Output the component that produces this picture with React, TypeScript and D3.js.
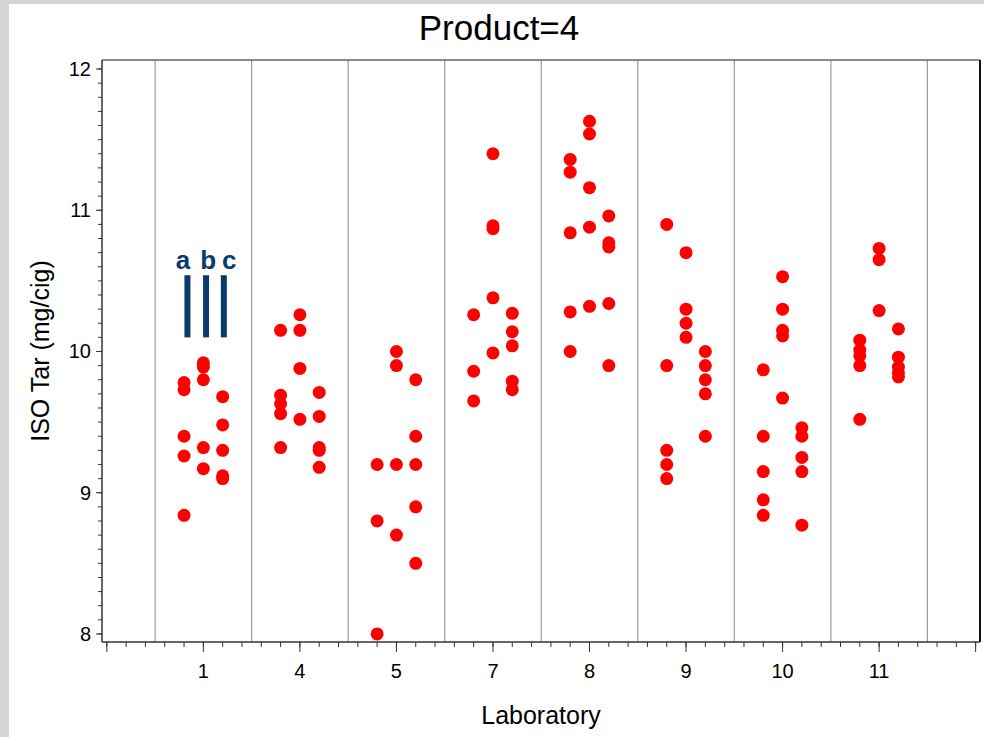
import React, { useEffect, useRef } from "react";
import * as d3 from "d3";

// laboratories along the x axis, three groups (a, b, c) per lab
const labs = ["1", "4", "5", "7", "8", "9", "10", "11"];
const groups = ["a", "b", "c"];

// ISO tar (mg/cig) per lab, one list per group
const tarA = [
  [9.78, 9.73, 9.4, 9.26, 8.84],
  [10.15, 9.69, 9.63, 9.56, 9.32],
  [9.2, 8.8, 8.0],
  [10.26, 9.86, 9.65],
  [11.36, 11.27, 10.84, 10.28, 10.0],
  [10.9, 9.9, 9.3, 9.2, 9.1],
  [9.87, 9.4, 9.15, 8.95, 8.84],
  [10.08, 10.01, 9.97, 9.9, 9.52],
];
const tarB = [
  [9.92, 9.89, 9.8, 9.32, 9.17],
  [10.26, 10.15, 9.88, 9.52],
  [10.0, 9.9, 9.2, 8.7],
  [11.4, 10.89, 10.87, 10.38, 9.99],
  [11.63, 11.54, 11.16, 10.88, 10.32],
  [10.7, 10.3, 10.2, 10.1],
  [10.53, 10.3, 10.15, 10.11, 9.67],
  [10.73, 10.65, 10.29],
];
const tarC = [
  [9.68, 9.48, 9.3, 9.12, 9.1],
  [9.71, 9.54, 9.32, 9.3, 9.18],
  [9.8, 9.4, 9.2, 8.9, 8.5],
  [10.27, 10.14, 10.04, 9.79, 9.73],
  [10.96, 10.77, 10.74, 10.34, 9.9],
  [10.0, 9.9, 9.8, 9.7, 9.4],
  [9.46, 9.4, 9.25, 9.15, 8.77],
  [10.16, 9.96, 9.89, 9.85, 9.82],
];

const yTicks = [8, 9, 10, 11, 12];

// the "a b c" key drawn over lab 1 (x in lab index units, y in mg/cig)
const keyLetterX = [0.79, 1.05, 1.267];
const keyBarX = [0.835, 1.028, 1.212];
const keyBarRange = [10.1, 10.54];
const keyLetterY = 10.585;

const App = () => {
  const ref = useRef<SVGSVGElement>(null);

  useEffect(() => {
    const width = 984;
    const height = 737;
    const margin = { top: 60, right: 4, bottom: 95, left: 102 };
    const innerW = width - margin.left - margin.right;
    const innerH = height - margin.top - margin.bottom;
    const font = "'Liberation Sans', Arial, sans-serif";

    const svg = d3.select(ref.current);
    svg.selectAll("*").remove();
    svg.attr("width", width).attr("height", height);

    // grey page frame
    svg.append("rect").attr("width", width).attr("height", height).attr("fill", "#d5d5d5");
    svg.append("rect").attr("x", 9).attr("y", 4).attr("width", width - 9).attr("height", height - 4).attr("fill", "#fff");

    svg
      .append("text")
      .attr("x", 499)
      .attr("y", 40)
      .attr("text-anchor", "middle")
      .attr("font-family", font)
      .attr("font-size", 35)
      .text("Product=4");

    const g = svg.append("g").attr("transform", `translate(${margin.left},${margin.top})`);

    const x = d3.scaleLinear().domain([-0.05, 9.045]).range([0, innerW]);
    const y = d3.scaleLinear().domain([7.943, 12.064]).range([innerH, 0]);
    const offset = d3.scalePoint().domain(groups).range([-0.2, 0.2]);

    // lab separators
    g.selectAll(".sep")
      .data(d3.range(0.5, labs.length + 1, 1))
      .enter()
      .append("line")
      .attr("x1", (d) => x(d))
      .attr("x2", (d) => x(d))
      .attr("y1", 0)
      .attr("y2", innerH)
      .attr("stroke", "#9a9a9a")
      .attr("stroke-width", 1.2);

    // frame
    g.append("line").attr("x1", 0).attr("x2", innerW).attr("y1", 0).attr("y2", 0).attr("stroke", "#666").attr("stroke-width", 1.5);
    g.append("line").attr("x1", innerW).attr("x2", innerW).attr("y1", 0).attr("y2", innerH).attr("stroke", "#111").attr("stroke-width", 2);

    // y axis
    const yAxis = g.append("g");
    yAxis
      .selectAll(".ymin")
      .data(d3.range(80, 121).map((d) => d / 10))
      .enter()
      .append("line")
      .attr("x1", -4)
      .attr("x2", 0)
      .attr("y1", (d) => y(d))
      .attr("y2", (d) => y(d))
      .attr("stroke", "#333");
    yAxis
      .selectAll(".ymaj")
      .data(yTicks)
      .enter()
      .append("line")
      .attr("x1", -6)
      .attr("x2", 0)
      .attr("y1", (d) => y(d))
      .attr("y2", (d) => y(d))
      .attr("stroke", "#333");
    yAxis
      .selectAll(".ylab")
      .data(yTicks)
      .enter()
      .append("text")
      .attr("x", -11)
      .attr("y", (d) => y(d))
      .attr("dy", "0.35em")
      .attr("text-anchor", "end")
      .attr("font-family", font)
      .attr("font-size", 20)
      .text((d) => d);
    yAxis.append("line").attr("x1", 0).attr("x2", 0).attr("y1", 0).attr("y2", innerH).attr("stroke", "#333").attr("stroke-width", 1.5);

    // x axis
    const xAxis = g.append("g").attr("transform", `translate(0,${innerH})`);
    xAxis
      .selectAll(".xmin")
      .data(d3.range(0, 46).map((d) => d / 5))
      .enter()
      .append("line")
      .attr("x1", (d) => x(d))
      .attr("x2", (d) => x(d))
      .attr("y1", 0)
      .attr("y2", 5)
      .attr("stroke", "#333");
    xAxis
      .selectAll(".xmaj")
      .data(d3.range(0, labs.length + 2))
      .enter()
      .append("line")
      .attr("x1", (d) => x(d))
      .attr("x2", (d) => x(d))
      .attr("y1", 0)
      .attr("y2", 10)
      .attr("stroke", "#333");
    xAxis
      .selectAll(".xlab")
      .data(labs)
      .enter()
      .append("text")
      .attr("x", (d, i) => x(i + 1))
      .attr("y", 36)
      .attr("text-anchor", "middle")
      .attr("font-family", font)
      .attr("font-size", 20)
      .text((d) => d);
    xAxis.append("line").attr("x1", 0).attr("x2", innerW).attr("y1", 0).attr("y2", 0).attr("stroke", "#333").attr("stroke-width", 1.5);

    // axis titles
    svg
      .append("text")
      .attr("x", margin.left + innerW / 2)
      .attr("y", 724)
      .attr("text-anchor", "middle")
      .attr("font-family", font)
      .attr("font-size", 25)
      .text("Laboratory");
    svg
      .append("text")
      .attr("transform", `translate(49,${margin.top + innerH / 2}) rotate(-90)`)
      .attr("text-anchor", "middle")
      .attr("font-family", font)
      .attr("font-size", 25)
      .text("ISO Tar (mg/cig)");

    // points
    const points: { lab: number; group: string; v: number }[] = [];
    [tarA, tarB, tarC].forEach((series, gi) => {
      series.forEach((vals, li) => {
        vals.forEach((v) => points.push({ lab: li + 1, group: groups[gi], v }));
      });
    });
    g.selectAll(".pt")
      .data(points)
      .enter()
      .append("circle")
      .attr("cx", (d) => x(d.lab + (offset(d.group) as number)))
      .attr("cy", (d) => y(d.v))
      .attr("r", 6.5)
      .attr("fill", "#ff0000");

    // a b c key
    const navy = "#083a6c";
    g.selectAll(".keybar")
      .data(keyBarX)
      .enter()
      .append("line")
      .attr("x1", (d) => x(d))
      .attr("x2", (d) => x(d))
      .attr("y1", y(keyBarRange[0]))
      .attr("y2", y(keyBarRange[1]))
      .attr("stroke", navy)
      .attr("stroke-width", 6);
    g.selectAll(".keytxt")
      .data(groups)
      .enter()
      .append("text")
      .attr("x", (d, i) => x(keyLetterX[i]))
      .attr("y", y(keyLetterY))
      .attr("text-anchor", "middle")
      .attr("font-family", font)
      .attr("font-weight", "bold")
      .attr("font-size", 26)
      .attr("fill", navy)
      .text((d) => d);
  }, []);

  return <svg ref={ref} style={{ position: "absolute", left: 0, top: 0 }}></svg>;
};

export default App;
